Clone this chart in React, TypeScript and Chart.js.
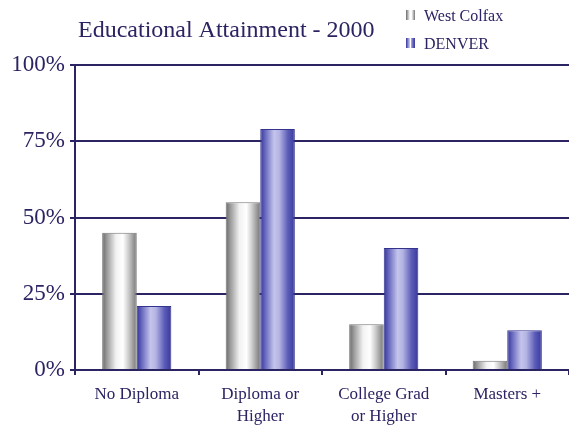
import React, { useEffect, useRef } from "react";
import { Chart, registerables } from "chart.js";

Chart.register(...registerables);

const categories: string[][] = [["No Diploma"], ["Diploma or", "Higher"], ["College Grad", "or Higher"], ["Masters +"]];
const westColfax: number[] = [45, 55, 15, 3];
const denver: number[] = [21, 79, 40, 13];
const seriesNames: string[] = ["West Colfax", "DENVER"];
const titleText = "Educational Attainment - 2000";

const NAVY = "#2b2463";
const FONT = "'Liberation Serif', 'Times New Roman', serif";
const CAT_PCT = 0.56;

const grayStops: [number, string][] = [
  [0, "#666666"],
  [0.12, "#959595"],
  [0.4, "#f2f2f2"],
  [0.6, "#ffffff"],
  [0.75, "#d0d0d0"],
  [0.9, "#9a9a9a"],
  [1, "#747474"],
];
const blueStops: [number, string][] = [
  [0, "#34349a"],
  [0.15, "#6a6ac0"],
  [0.4, "#c4c4ec"],
  [0.55, "#b4b4e4"],
  [0.8, "#5c5cb8"],
  [1, "#38389c"],
];

function makeBg(stops: [number, string][]) {
  return (ctx: any) => {
    const chart = ctx.chart;
    const x = chart.scales && chart.scales.x;
    const fallback = stops[3][1];
    if (!x || ctx.type !== "data") return fallback;
    const center = x.getPixelForValue(ctx.dataIndex);
    const catW = (x.right - x.left) / categories.length;
    const bw = (catW * CAT_PCT) / 2;
    const left = center - (catW * CAT_PCT) / 2 + ctx.datasetIndex * bw;
    if (!isFinite(left) || !isFinite(bw) || bw <= 0) return fallback;
    const g = chart.ctx.createLinearGradient(left, 0, left + bw, 0);
    stops.forEach(([o, c]) => g.addColorStop(o, c));
    return g;
  };
}

const overlayPlugin = {
  id: "overlay",
  afterDraw(chart: any) {
    const c = chart.ctx;
    c.save();
    c.fillStyle = NAVY;
    c.textBaseline = "alphabetic";
    c.textAlign = "left";
    c.font = `24px ${FONT}`;
    c.fillText(titleText, 78, 37);

    c.font = `16px ${FONT}`;
    const rows = [
      { y: 21, stops: grayStops },
      { y: 49, stops: blueStops },
    ];
    rows.forEach((r, i) => {
      const ix = 406;
      const g = c.createLinearGradient(ix, 0, ix + 9, 0);
      r.stops.forEach(([o, col]) => g.addColorStop(o, col));
      c.fillStyle = g;
      c.fillRect(ix, r.y - 11, 4, 10);
      c.fillRect(ix + 5, r.y - 11, 4, 10);
      c.fillStyle = NAVY;
      c.fillText(seriesNames[i], 424, r.y);
    });
    c.restore();
  },
};

export default function App() {
  const ref = useRef<HTMLCanvasElement | null>(null);
  useEffect(() => {
    if (!ref.current) return;
    const chart = new Chart(ref.current, {
      type: "bar",
      data: {
        labels: categories,
        datasets: [
          {
            label: seriesNames[0],
            data: westColfax,
            backgroundColor: makeBg(grayStops),
            borderColor: "#777777",
            borderWidth: 1,
            categoryPercentage: CAT_PCT,
            barPercentage: 1,
          },
          {
            label: seriesNames[1],
            data: denver,
            backgroundColor: makeBg(blueStops),
            borderColor: "#34348e",
            borderWidth: 1,
            categoryPercentage: CAT_PCT,
            barPercentage: 1,
          },
        ],
      },
      options: {
        responsive: false,
        animation: false,
        devicePixelRatio: 1,
        layout: { padding: { top: 65, left: 0, right: 0, bottom: 0 } },
        plugins: {
          legend: { display: false },
          title: { display: false },
          tooltip: { enabled: false },
        },
        scales: {
          x: {
            grid: {
              display: true,
              drawOnChartArea: false,
              drawTicks: true,
              tickLength: 5,
              color: NAVY,
              lineWidth: 2,
              offset: true,
            },
            border: { display: true, color: NAVY, width: 2 },
            ticks: {
              font: { family: FONT, size: 17, lineHeight: 1.3 },
              color: NAVY,
              padding: 8,
              maxRotation: 0,
              autoSkip: false,
            },
            afterFit: (s: any) => {
              s.height = 58;
            },
          },
          y: {
            min: 0,
            max: 100,
            ticks: {
              stepSize: 25,
              callback: (v: any) => `${v}%`,
              font: { family: FONT, size: 23 },
              color: NAVY,
              padding: 5,
            },
            grid: { color: NAVY, lineWidth: 2, tickLength: 5 },
            border: { display: true, color: NAVY, width: 2 },
            afterFit: (s: any) => {
              s.width = 75;
            },
          },
        },
      },
      plugins: [overlayPlugin],
    });
    chart.update();
    return () => chart.destroy();
  }, []);
  return (
    <div style={{ position: "fixed", left: 0, top: 0, width: 569, height: 428, background: "#fff" }}>
      <canvas ref={ref} width={569} height={428} style={{ display: "block" }} />
    </div>
  );
}
